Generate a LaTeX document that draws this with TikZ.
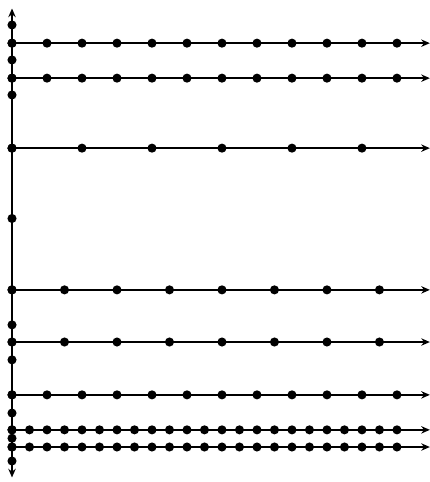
\documentclass[tikz,border=0pt]{standalone}
\usetikzlibrary{arrows.meta}
\begin{document}
\begin{tikzpicture}[>={Stealth[length=7pt,width=6pt]}, line width=1.4pt]
    \useasboundingbox (-0.343,-7.53) rectangle (11.943,6.243);

    % 縦軸
    \draw[<->] (0,-7.4) -- (0,6.0);

    % 縦軸上の点
    \foreach \y in {5.53,5.01,4.53,4.01,3.53,2.01,0,-2.04,-3.04,-3.53,-4.04,-5.04,-5.56,-6.04,-6.28,-6.53,-6.93}
        \fill (0,\y) circle (0.13);

    % 横線と等間隔の点 (高さ/間隔)
    \foreach \y/\d in {5.01/1, 4.01/1, 2.01/2, -2.04/1.5, -3.53/1.5, -5.04/1, -6.04/0.5, -6.53/0.5} {
        \draw[->] (0,\y) -- (11.94,\y);
        \foreach \x in {0,\d,...,11.1}
            \fill (\x,\y) circle (0.13);
    }
\end{tikzpicture}
\end{document}
